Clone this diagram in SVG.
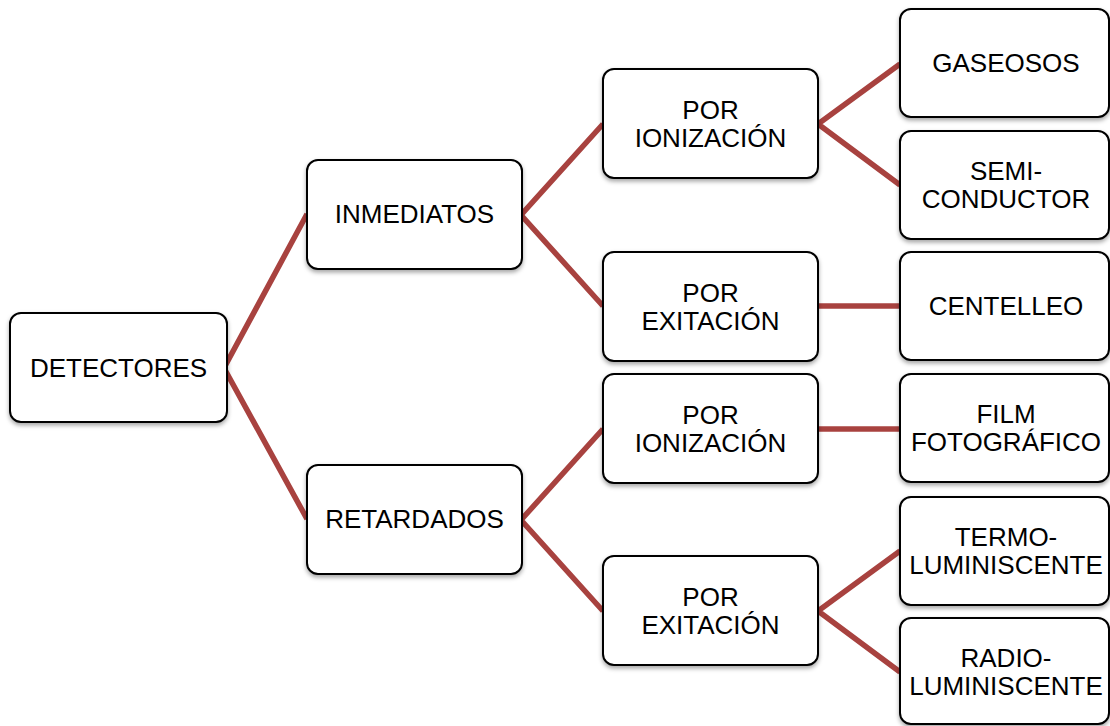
<svg xmlns="http://www.w3.org/2000/svg" width="1110" height="726" viewBox="0 0 1110 726">
<defs>
<filter id="sh" x="-10%" y="-10%" width="130%" height="140%">
<feDropShadow dx="0" dy="2.5" stdDeviation="2" flood-color="#000" flood-opacity="0.35"/>
</filter>
<style>
.box{fill:#fff;stroke:#000;stroke-width:2;filter:url(#sh)}
.t{font-family:"Liberation Sans",Arial,sans-serif;font-size:26px;fill:#000;text-anchor:middle}
.c{stroke:#a8423f;stroke-width:5.5;fill:none;stroke-linejoin:miter}
</style>
</defs>
<rect width="1110" height="726" fill="#fff"/>
<g id="connectors">
<polyline class="c" points="307,214 224,368 307,519"/>
<polyline class="c" points="603,124 521,215 603,306"/>
<polyline class="c" points="603,429 521,520 603,611"/>
<polyline class="c" points="900,64 818,124 900,185"/>
<line class="c" x1="818" y1="306" x2="900" y2="306"/>
<line class="c" x1="818" y1="429" x2="900" y2="429"/>
<polyline class="c" points="900,551 818,611 900,672"/>
</g>
<g id="detectores"><rect class="box" x="10" y="313" width="217" height="109" rx="11"/><text class="t" x="118.5" y="377">DETECTORES</text></g>
<g id="inmediatos"><rect class="box" x="307" y="160" width="215" height="109" rx="11"/><text class="t" x="414.5" y="223">INMEDIATOS</text></g>
<g id="retardados"><rect class="box" x="307" y="465" width="215" height="109" rx="11"/><text class="t" x="414.5" y="528">RETARDADOS</text></g>
<g id="ionizacion1"><rect class="box" x="603" y="69" width="215" height="109" rx="11"/><text class="t" x="710.5" y="119">POR<tspan x="710.5" dy="28">IONIZACIÓN</tspan></text></g>
<g id="exitacion1"><rect class="box" x="603" y="252" width="215" height="109" rx="11"/><text class="t" x="710.5" y="302">POR<tspan x="710.5" dy="28">EXITACIÓN</tspan></text></g>
<g id="ionizacion2"><rect class="box" x="603" y="374" width="215" height="109" rx="11"/><text class="t" x="710.5" y="424">POR<tspan x="710.5" dy="28">IONIZACIÓN</tspan></text></g>
<g id="exitacion2"><rect class="box" x="603" y="556" width="215" height="109" rx="11"/><text class="t" x="710.5" y="606">POR<tspan x="710.5" dy="28">EXITACIÓN</tspan></text></g>
<g id="gaseosos"><rect class="box" x="900" y="9" width="209" height="108" rx="11"/><text class="t" x="1006" y="72">GASEOSOS</text></g>
<g id="semiconductor"><rect class="box" x="900" y="131" width="209" height="108" rx="11"/><text class="t" x="1006" y="179.5">SEMI-<tspan x="1006" dy="28">CONDUCTOR</tspan></text></g>
<g id="centelleo"><rect class="box" x="900" y="252" width="209" height="108" rx="11"/><text class="t" x="1006" y="315">CENTELLEO</text></g>
<g id="film"><rect class="box" x="900" y="374" width="209" height="108" rx="11"/><text class="t" x="1006" y="422.5">FILM<tspan x="1006" dy="28">FOTOGRÁFICO</tspan></text></g>
<g id="termo"><rect class="box" x="900" y="497" width="209" height="108" rx="11"/><text class="t" x="1006" y="545.5">TERMO-<tspan x="1006" dy="28">LUMINISCENTE</tspan></text></g>
<g id="radio"><rect class="box" x="900" y="618" width="209" height="106" rx="11"/><text class="t" x="1006" y="666.5">RADIO-<tspan x="1006" dy="28">LUMINISCENTE</tspan></text></g>
</svg>
